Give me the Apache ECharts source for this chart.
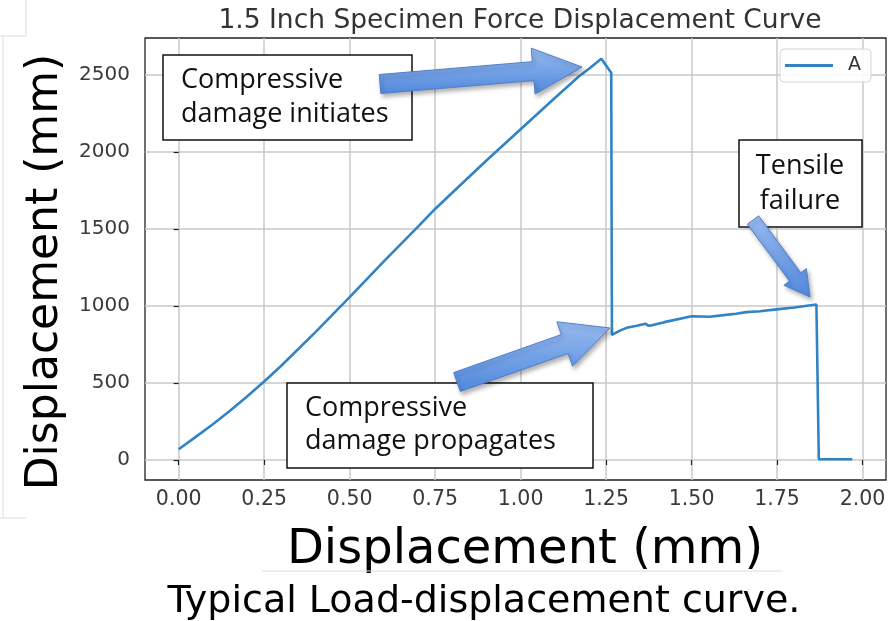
<!DOCTYPE html>
<html>
<head>
<meta charset="utf-8">
<title>1.5 Inch Specimen Force Displacement Curve</title>
<script src="https://cdn.jsdelivr.net/npm/echarts@6.0.0/dist/echarts.min.js"></script>
<style>
  html, body { margin: 0; padding: 0; background: #fff; }
  #chart { width: 891px; height: 621px; }
</style>
</head>
<body>
<div id="chart"></div>
<script>
// values
const displacement = [0, 0.05, 0.1, 0.125, 0.15, 0.2, 0.25, 0.3, 0.4, 0.5, 0.6, 0.7, 0.75, 0.8, 0.9, 1.0,
  1.1, 1.17, 1.2, 1.236, 1.265, 1.267, 1.272, 1.29, 1.31, 1.34, 1.365, 1.372, 1.378, 1.42, 1.5, 1.553,
  1.6, 1.63, 1.66, 1.7, 1.748, 1.8, 1.865, 1.869, 1.872, 1.97];
const load = [70, 150, 232, 276, 320, 412, 510, 612, 830, 1058, 1290, 1515, 1630, 1735, 1945, 2148,
  2350, 2490, 2540, 2605, 2515, 812, 812, 840, 858, 872, 885, 874, 872, 895, 933, 930,
  942, 950, 960, 966, 978, 990, 1010, 1008, 5, 5];
const xTicks = [0, 0.25, 0.5, 0.75, 1.0, 1.25, 1.5, 1.75, 2.0];
const yTicks = [0, 500, 1000, 1500, 2000, 2500];
const seriesName = "A";

const lineColor = "#3084c6";
const gridColor = "#c9c9c9";
const tickFont = "DejaVu Sans";
const noteFont = "Open Sans";

const chart = echarts.init(document.getElementById("chart"));

const arrowPoints = (tail, tip, shaftW, headW, headL) => {
  const dx = tip[0] - tail[0];
  const dy = tip[1] - tail[1];
  const len = Math.hypot(dx, dy);
  const ux = dx / len, uy = dy / len;
  const nx = -uy, ny = ux;
  const bx = tip[0] - ux * headL, by = tip[1] - uy * headL;
  const p = (x, y, w) => [x + nx * w, y + ny * w];
  return [
    p(tail[0], tail[1], shaftW / 2),
    p(bx, by, shaftW / 2),
    p(bx, by, headW / 2),
    tip,
    p(bx, by, -headW / 2),
    p(bx, by, -shaftW / 2),
    p(tail[0], tail[1], -shaftW / 2),
  ];
};

const arrow = (tail, tip, shaftW, headW, headL) => ({
  type: "polygon",
  z: 30,
  shape: { points: arrowPoints(tail, tip, shaftW, headW, headL) },
  style: {
    fill: new echarts.graphic.LinearGradient(0, 0, 0, 1, [
      { offset: 0, color: "#98bbf0" },
      { offset: 1, color: "#5188dc" },
    ]),
    stroke: "#4f80cf",
    lineWidth: 1,
    shadowBlur: 4,
    shadowOffsetX: 2,
    shadowOffsetY: 3,
    shadowColor: "rgba(0,0,0,0.3)",
  },
});

const noteBox = (x, y, w, h) => ({
  type: "rect",
  z: 20,
  shape: { x, y, width: w, height: h },
  style: { fill: "#fff", stroke: "#111", lineWidth: 1.5 },
});

const noteText = (x, y, text, align) => ({
  type: "text",
  z: 21,
  x,
  y,
  style: {
    text,
    fill: "#111",
    font: `27px "${noteFont}"`,
    align: align || "left",
    verticalAlign: "middle",
  },
});

const thinLine = (x1, y1, x2, y2) => ({
  type: "line",
  z: 1,
  shape: { x1, y1, x2, y2 },
  style: { stroke: "#dcdcdc", lineWidth: 1 },
});

const option = {
  backgroundColor: "#fff",
  animation: false,
  title: {
    text: "1.5 Inch Specimen Force Displacement Curve",
    left: 515,
    top: 3,
    textAlign: "center",
    textStyle: {
      fontFamily: tickFont,
      fontSize: 26.5,
      fontWeight: "normal",
      color: "#333",
    },
  },
  legend: {
    data: [seriesName],
    left: 780,
    top: 49,
    icon: "rect",
    itemWidth: 48,
    itemHeight: 3,
    padding: [7, 10, 7, 5],
    borderColor: "#d5d5d5",
    borderWidth: 1,
    borderRadius: 4,
    backgroundColor: "rgba(255,255,255,0.9)",
    textStyle: {
      fontFamily: tickFont,
      fontSize: 19,
      color: "#333",
      padding: [0, 0, 0, 10],
    },
  },
  grid: {
    left: 145,
    top: 38,
    right: 5,
    bottom: 141,
    show: true,
    borderColor: "#222",
    borderWidth: 1.3,
    containLabel: false,
  },
  xAxis: {
    type: "value",
    min: -0.0985,
    max: 2.0685,
    axisLine: { show: false },
    axisTick: {
      show: true,
      customValues: xTicks,
      length: 5,
      lineStyle: { color: "#222", width: 1.2 },
    },
    axisLabel: {
      customValues: xTicks,
      formatter: (v) => v.toFixed(2),
      fontFamily: tickFont,
      fontSize: 20.5,
      color: "#3a3a3a",
      margin: 9,
    },
    splitLine: { show: true, lineStyle: { color: gridColor, width: 1.5 } },
  },
  yAxis: {
    type: "value",
    min: -130,
    max: 2740,
    axisLine: { show: false },
    axisTick: {
      show: true,
      customValues: yTicks,
      length: 5,
      lineStyle: { color: "#222", width: 1.2 },
    },
    axisLabel: {
      customValues: yTicks,
      formatter: (v) => String(v),
      fontFamily: tickFont,
      fontSize: 20,
      color: "#3a3a3a",
      margin: 15,
    },
    splitLine: { show: true, lineStyle: { color: gridColor, width: 1.5 } },
  },
  series: [
    {
      name: seriesName,
      type: "line",
      data: displacement.map((x, i) => [x, load[i]]),
      showSymbol: false,
      symbol: "none",
      itemStyle: { color: lineColor },
      lineStyle: { color: lineColor, width: 2.6 },
      z: 5,
    },
  ],
  graphic: [
    // stray frame edges left from the pasted figure
    thinLine(0, 36, 26, 36),
    thinLine(26, 0, 26, 36),
    thinLine(3, 36, 3, 518),
    thinLine(0, 518, 26, 518),
    thinLine(262, 571, 783, 571),

    // axis titles and caption
    {
      type: "text",
      x: 46,
      y: 272,
      rotation: Math.PI / 2,
      style: {
        text: "Displacement (mm)",
        font: `44px "${tickFont}"`,
        fill: "#000",
        align: "center",
        verticalAlign: "middle",
      },
    },
    {
      type: "text",
      x: 525,
      y: 551,
      style: {
        text: "Displacement (mm)",
        font: `48px "${tickFont}"`,
        fill: "#000",
        align: "center",
        verticalAlign: "middle",
      },
    },
    {
      type: "text",
      x: 484,
      y: 602,
      style: {
        text: "Typical Load-displacement curve.",
        font: `38px "${tickFont}"`,
        fill: "#000",
        align: "center",
        verticalAlign: "middle",
      },
    },

    // annotation boxes
    noteBox(163, 55, 249, 85),
    noteText(181, 80, "Compressive"),
    noteText(181, 114, "damage initiates"),

    noteBox(287, 383, 306, 85),
    noteText(305, 408, "Compressive"),
    noteText(305, 441, "damage propagates"),

    noteBox(739, 140, 123, 87),
    noteText(800, 166, "Tensile", "center"),
    noteText(800, 201, "failure", "center"),

    // arrows
    arrow([380, 84], [582, 67], 19, 46, 49),
    arrow([457, 382], [610, 328], 20, 47, 48),
    arrow([753, 220], [810, 297], 14, 28, 25),
  ],
};

chart.setOption(option);
window.addEventListener("resize", () => chart.resize());
</script>
</body>
</html>
